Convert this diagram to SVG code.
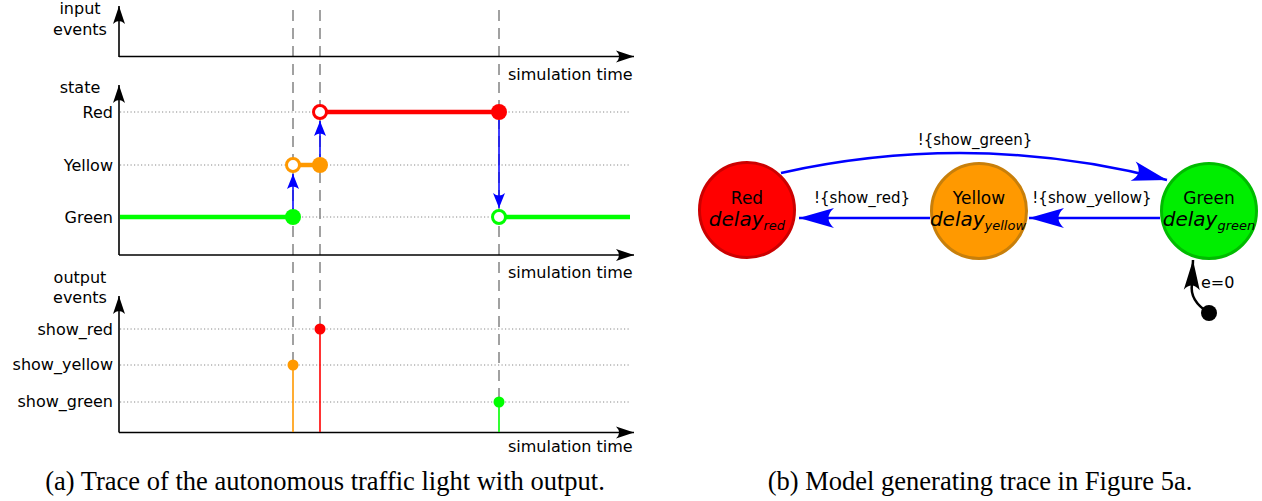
<svg xmlns="http://www.w3.org/2000/svg" width="1262" height="501" viewBox="0 0 1262 501">
<defs>
<style>
text{font-family:"DejaVu Sans","Liberation Sans",sans-serif;fill:#000}
.lbl{font-size:16px}
.r{text-anchor:end}
.m{text-anchor:middle}
.cap{font-family:"Liberation Serif","Times New Roman",serif;font-size:26.5px;text-anchor:middle}
.axis{stroke:#000;stroke-width:1.6;fill:none}
.grid{stroke:#888;stroke-width:1;stroke-dasharray:1.2 2.3;fill:none}
.dash{stroke:#8a8a8a;stroke-width:1.6;stroke-dasharray:11 7;fill:none}
.tr{stroke:#0000ff;stroke-width:1.5;fill:none}
.edge{stroke:#0000ff;stroke-width:2.5;fill:none}
.st{font-size:17px}
.dl{font-size:20px;font-style:italic}
.sub{font-size:13px;font-style:italic}
.tl{font-size:15px}
</style>
<marker id="ax" markerUnits="userSpaceOnUse" markerWidth="20" markerHeight="14" viewBox="-18 -7 20 14" refX="0" refY="0" orient="auto">
<path d="M0,0 L-18,-6 Q-12,0 -18,6 Z" fill="#000"/>
</marker>
<marker id="sm" markerUnits="userSpaceOnUse" markerWidth="18" markerHeight="14" viewBox="-16 -7 18 14" refX="0" refY="0" orient="auto">
<path d="M0,0 L-15,-6 Q-10,0 -15,6 Z" fill="#0000ff"/>
</marker>
<marker id="big" markerUnits="userSpaceOnUse" markerWidth="38" markerHeight="24" viewBox="-36 -12 38 24" refX="0" refY="0" orient="auto">
<path d="M0,0 L-35,-10 Q-24,0 -35,10 Z" fill="#0000ff"/>
</marker>
<marker id="bigk" markerUnits="userSpaceOnUse" markerWidth="36" markerHeight="24" viewBox="-34 -12 36 24" refX="0" refY="0" orient="auto">
<path d="M0,0 L-30,-8 Q-21,0 -30,8 Z" fill="#000"/>
</marker>
</defs>
<rect width="1262" height="501" fill="#fff"/>

<g id="trace">
<g id="grid">
<line class="grid" x1="120" y1="112" x2="630" y2="112"/>
<line class="grid" x1="120" y1="165" x2="630" y2="165"/>
<line class="grid" x1="120" y1="217" x2="630" y2="217"/>
<line class="grid" x1="120" y1="329" x2="630" y2="329"/>
<line class="grid" x1="120" y1="365" x2="630" y2="365"/>
<line class="grid" x1="120" y1="402" x2="630" y2="402"/>
</g>
<g id="dashes">
<line class="dash" x1="293" y1="10" x2="293" y2="360"/>
<line class="dash" x1="320" y1="10" x2="320" y2="325"/>
<line class="dash" x1="499" y1="10" x2="499" y2="397"/>
</g>
<g id="axes">
<path class="axis" d="M119,57 V6" marker-end="url(#ax)"/>
<path class="axis" d="M119,56.5 H634" marker-end="url(#ax)"/>
<path class="axis" d="M119,255 V85" marker-end="url(#ax)"/>
<path class="axis" d="M119,255 H634" marker-end="url(#ax)"/>
<path class="axis" d="M119,432.5 V296" marker-end="url(#ax)"/>
<path class="axis" d="M119,432.5 H634" marker-end="url(#ax)"/>
</g>
<g id="axis-labels">
<text class="lbl m" x="80" y="14">input</text>
<text class="lbl m" x="80" y="35">events</text>
<text class="lbl" x="508" y="80">simulation time</text>
<text class="lbl m" x="80" y="93">state</text>
<text class="lbl r" x="113" y="118">Red</text>
<text class="lbl r" x="113" y="171">Yellow</text>
<text class="lbl r" x="113" y="223">Green</text>
<text class="lbl" x="508" y="278">simulation time</text>
<text class="lbl m" x="80" y="283">output</text>
<text class="lbl m" x="80" y="303">events</text>
<text class="lbl r" x="113" y="335">show_red</text>
<text class="lbl r" x="113" y="370">show_yellow</text>
<text class="lbl r" x="113" y="407">show_green</text>
<text class="lbl" x="508" y="452">simulation time</text>
</g>
<g id="state-trace">
<line x1="120" y1="217" x2="293" y2="217" stroke="#00ff00" stroke-width="4.5"/>
<line x1="293" y1="165" x2="320" y2="165" stroke="#ff9900" stroke-width="4.5"/>
<line x1="320" y1="112" x2="499" y2="112" stroke="#ff0000" stroke-width="4.5"/>
<line x1="499" y1="217" x2="630" y2="217" stroke="#00ff00" stroke-width="4.5"/>
<path class="tr" d="M293,209 V174" marker-end="url(#sm)"/>
<path class="tr" d="M320,157 V121" marker-end="url(#sm)"/>
<path class="tr" d="M499,120 V208" marker-end="url(#sm)"/>
<circle cx="293" cy="217" r="8" fill="#00ff00"/>
<circle cx="293" cy="165" r="6.5" fill="#fff" stroke="#ff9900" stroke-width="3"/>
<circle cx="320" cy="165" r="8" fill="#ff9900"/>
<circle cx="320" cy="112" r="6.5" fill="#fff" stroke="#ff0000" stroke-width="3"/>
<circle cx="499" cy="112" r="8" fill="#ff0000"/>
<circle cx="499" cy="217" r="6.5" fill="#fff" stroke="#00ff00" stroke-width="3"/>
</g>
<g id="output-trace">
<line x1="293" y1="365" x2="293" y2="432" stroke="#ff9900" stroke-width="1.6"/>
<line x1="320" y1="329" x2="320" y2="432" stroke="#ff0000" stroke-width="1.6"/>
<line x1="499" y1="402" x2="499" y2="432" stroke="#00ff00" stroke-width="1.6"/>
<circle cx="293" cy="365" r="5.5" fill="#ff9900"/>
<circle cx="320" cy="329" r="5.5" fill="#ff0000"/>
<circle cx="499" cy="402" r="5.5" fill="#00ff00"/>
</g>
<text class="cap" x="325" y="490">(a) Trace of the autonomous traffic light with output.</text>
</g>

<g id="connectors">
<path class="edge" d="M781,173 Q975,130 1167,180" marker-end="url(#big)"/>
<path class="edge" d="M1160,218 H1029" marker-end="url(#big)"/>
<path class="edge" d="M930,218 H799" marker-end="url(#big)"/>
<path d="M1209,313 C1196,305 1190,296 1192,284 L1193,260" fill="none" stroke="#000" stroke-width="2.5" marker-end="url(#bigk)"/>
<circle cx="1209" cy="313" r="8" fill="#000"/>
<text class="tl m" x="975" y="145">!{show_green}</text>
<text class="tl m" x="862" y="203">!{show_red}</text>
<text class="tl m" x="1092" y="203">!{show_yellow}</text>
<text class="lbl" x="1201" y="288">e=0</text>
</g>

<g id="node-red">
<circle cx="747" cy="210" r="47.5" fill="#ff0000" stroke="#cc0000" stroke-width="3"/>
<text class="st m" x="747" y="204">Red</text>
<text class="m" x="747" y="226"><tspan class="dl">delay</tspan><tspan class="sub" dy="4">red</tspan></text>
</g>
<g id="node-yellow">
<circle cx="979" cy="211" r="47.5" fill="#ff9900" stroke="#c87f0a" stroke-width="3"/>
<text class="st m" x="979" y="204">Yellow</text>
<text class="m" x="978" y="226"><tspan class="dl">delay</tspan><tspan class="sub" dy="4">yellow</tspan></text>
</g>
<g id="node-green">
<circle cx="1209" cy="211" r="47.5" fill="#00ee00" stroke="#00bb00" stroke-width="3"/>
<text class="st m" x="1209" y="204">Green</text>
<text class="m" x="1209" y="226"><tspan class="dl">delay</tspan><tspan class="sub" dy="4">green</tspan></text>
</g>
<text class="cap" x="980" y="490">(b) Model generating trace in Figure 5a.</text>
</svg>
